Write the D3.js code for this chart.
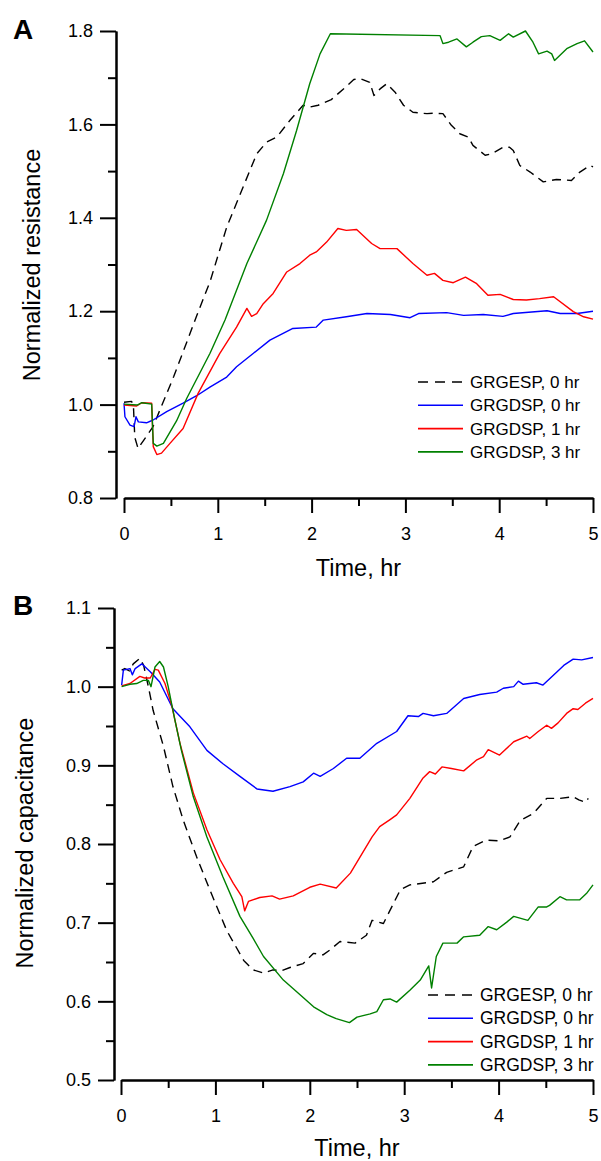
<!DOCTYPE html>
<html>
<head>
<meta charset="utf-8">
<script src="https://cdn.jsdelivr.net/npm/d3@7"></script>
<style>
  body { margin: 0; background: #fff; }
  svg text { font-family: Arial, "Liberation Sans", sans-serif; fill: #000; }
  .axis path, .axis line { stroke: #000; stroke-width: 2; }
  .series { fill: none; stroke-width: 1.4; stroke-linejoin: round; }
</style>
</head>
<body>
<svg id="chart" width="601" height="1161"></svg>
<script>
// Series names and styles
var seriesNames = ["GRGESP, 0 hr", "GRGDSP, 0 hr", "GRGDSP, 1 hr", "GRGDSP, 3 hr"];
var seriesColors = ["#000000", "#0000ff", "#ff0000", "#008000"];
var seriesDash = ["9,6", null, null, null];

// Axis ticks
var timeTicks = [0, 1, 2, 3, 4, 5];
var timeMinor = [0.5, 1.5, 2.5, 3.5, 4.5];
var resTicks = [0.8, 1.0, 1.2, 1.4, 1.6, 1.8];
var resMinor = [0.9, 1.1, 1.3, 1.5, 1.7];
var capTicks = [0.5, 0.6, 0.7, 0.8, 0.9, 1.0, 1.1];
var capMinor = [0.55, 0.65, 0.75, 0.85, 0.95, 1.05];

// Panel A: normalized resistance vs time (hr)
var resGrgesp0 = [[0,1.005],[0.08,1.007],[0.1,1.0],[0.115,0.93],[0.15,0.906],[0.31,0.953],[0.53,1.06],[0.775,1.19],[0.92,1.265],[1.095,1.38],[1.27,1.466],[1.415,1.537],[1.52,1.562],[1.63,1.573],[1.77,1.609],[1.91,1.641],[1.98,1.637],[2.07,1.641],[2.21,1.653],[2.34,1.676],[2.45,1.696],[2.52,1.698],[2.62,1.69],[2.665,1.662],[2.73,1.676],[2.8,1.687],[2.89,1.669],[2.98,1.641],[3.08,1.626],[3.23,1.623],[3.3,1.624],[3.4,1.623],[3.49,1.598],[3.58,1.58],[3.67,1.573],[3.72,1.555],[3.85,1.534],[3.92,1.537],[4.04,1.551],[4.11,1.551],[4.15,1.544],[4.22,1.512],[4.33,1.498],[4.47,1.477],[4.61,1.482],[4.77,1.48],[4.86,1.498],[4.97,1.512],[5.0,1.509]];
var resGrgdsp0 = [[0,1.003],[0.01,0.974],[0.064,0.956],[0.107,0.953],[0.128,0.974],[0.153,0.963],[0.24,0.961],[0.31,0.967],[0.455,0.985],[0.63,1.003],[0.775,1.019],[0.92,1.038],[1.095,1.059],[1.2,1.081],[1.38,1.11],[1.556,1.138],[1.8,1.163],[2.05,1.166],[2.125,1.181],[2.37,1.188],[2.59,1.195],[2.84,1.193],[3.05,1.186],[3.14,1.195],[3.44,1.197],[3.62,1.191],[3.83,1.193],[4.04,1.189],[4.15,1.195],[4.51,1.201],[4.65,1.195],[4.83,1.195],[5.0,1.2]];
var resGrgdsp1 = [[0,0.999],[0.135,0.997],[0.19,1.004],[0.295,1.003],[0.312,0.91],[0.35,0.893],[0.4,0.896],[0.49,0.917],[0.63,0.949],[0.79,1.024],[1.02,1.109],[1.2,1.166],[1.31,1.206],[1.36,1.189],[1.415,1.195],[1.485,1.216],[1.59,1.238],[1.735,1.284],[1.876,1.302],[1.98,1.32],[2.05,1.327],[2.16,1.348],[2.28,1.377],[2.37,1.373],[2.48,1.375],[2.64,1.345],[2.73,1.334],[2.91,1.334],[3.08,1.302],[3.23,1.277],[3.31,1.281],[3.4,1.266],[3.51,1.261],[3.64,1.273],[3.76,1.259],[3.88,1.234],[4.01,1.236],[4.15,1.225],[4.29,1.224],[4.43,1.227],[4.58,1.231],[4.79,1.199],[4.9,1.188],[5.0,1.183]];
var resGrgdsp3 = [[0,1.001],[0.14,0.999],[0.19,1.004],[0.295,1.001],[0.312,0.917],[0.35,0.911],[0.42,0.917],[0.56,0.965],[0.668,1.013],[0.917,1.11],[1.077,1.181],[1.31,1.302],[1.52,1.395],[1.7,1.495],[1.84,1.587],[1.98,1.687],[2.09,1.751],[2.2,1.794],[3.37,1.79],[3.4,1.773],[3.46,1.776],[3.55,1.783],[3.65,1.766],[3.72,1.776],[3.81,1.788],[3.9,1.79],[4.01,1.78],[4.1,1.794],[4.15,1.787],[4.28,1.8],[4.36,1.776],[4.42,1.751],[4.51,1.757],[4.56,1.751],[4.59,1.737],[4.72,1.762],[4.83,1.773],[4.91,1.779],[5.0,1.755]];

// Panel B: normalized capacitance vs time (hr)
var capGrgesp0 = [[0.007,1.021],[0.04,1.023],[0.09,1.02],[0.13,1.029],[0.2,1.036],[0.24,1.027],[0.29,1.0],[0.34,0.97],[0.45,0.924],[0.55,0.873],[0.66,0.83],[0.8,0.784],[0.94,0.742],[1.12,0.69],[1.3,0.652],[1.4,0.64],[1.51,0.636],[1.61,0.64],[1.7,0.639],[1.79,0.643],[1.93,0.648],[2.04,0.661],[2.14,0.659],[2.21,0.665],[2.32,0.676],[2.48,0.674],[2.6,0.684],[2.66,0.703],[2.78,0.699],[2.96,0.742],[3.06,0.748],[3.31,0.752],[3.45,0.764],[3.63,0.771],[3.73,0.797],[3.87,0.805],[4.01,0.804],[4.12,0.809],[4.23,0.83],[4.37,0.839],[4.51,0.858],[4.65,0.858],[4.79,0.86],[4.85,0.856],[4.92,0.853],[4.95,0.858]];
var capGrgdsp0 = [[0.007,1.002],[0.025,1.021],[0.095,1.023],[0.12,1.015],[0.15,1.023],[0.22,1.029],[0.31,1.019],[0.41,1.006],[0.55,0.972],[0.73,0.949],[0.91,0.919],[1.08,0.902],[1.26,0.886],[1.44,0.87],[1.61,0.867],[1.79,0.873],[1.93,0.879],[2.04,0.89],[2.11,0.886],[2.25,0.896],[2.39,0.909],[2.53,0.909],[2.71,0.928],[2.92,0.943],[3.04,0.963],[3.15,0.962],[3.2,0.966],[3.31,0.963],[3.45,0.966],[3.63,0.985],[3.8,0.99],[3.98,0.993],[4.05,0.998],[4.16,1.0],[4.21,1.007],[4.26,1.003],[4.4,1.005],[4.47,1.002],[4.62,1.019],[4.69,1.027],[4.79,1.035],[4.88,1.034],[5.0,1.037]];
var capGrgdsp1 = [[0.007,1.001],[0.095,1.004],[0.2,1.013],[0.25,1.011],[0.31,1.011],[0.36,1.022],[0.395,1.021],[0.466,1.004],[0.54,0.975],[0.625,0.928],[0.766,0.865],[0.91,0.818],[1.05,0.78],[1.19,0.75],[1.28,0.733],[1.31,0.715],[1.35,0.727],[1.47,0.732],[1.6,0.734],[1.68,0.73],[1.825,0.734],[2.0,0.745],[2.11,0.749],[2.28,0.744],[2.43,0.763],[2.53,0.783],[2.66,0.809],[2.74,0.822],[2.85,0.831],[2.92,0.837],[3.06,0.858],[3.2,0.884],[3.27,0.892],[3.33,0.889],[3.4,0.898],[3.5,0.896],[3.63,0.893],[3.77,0.907],[3.84,0.911],[3.89,0.92],[4.01,0.913],[4.16,0.93],[4.3,0.937],[4.33,0.934],[4.42,0.943],[4.51,0.951],[4.56,0.947],[4.63,0.954],[4.72,0.966],[4.79,0.972],[4.84,0.971],[4.92,0.979],[5.0,0.985]];
var capGrgdsp3 = [[0.007,1.0],[0.095,1.003],[0.166,1.004],[0.236,1.008],[0.29,1.008],[0.318,1.0],[0.36,1.025],[0.41,1.032],[0.45,1.025],[0.5,1.0],[0.57,0.958],[0.64,0.919],[0.766,0.86],[0.91,0.809],[1.08,0.758],[1.26,0.708],[1.4,0.68],[1.51,0.657],[1.72,0.627],[1.9,0.608],[2.04,0.593],[2.18,0.583],[2.28,0.578],[2.42,0.573],[2.5,0.58],[2.64,0.584],[2.71,0.587],[2.78,0.602],[2.85,0.603],[2.92,0.599],[3.06,0.614],[3.17,0.627],[3.26,0.645],[3.29,0.617],[3.34,0.657],[3.41,0.674],[3.56,0.674],[3.63,0.682],[3.8,0.684],[3.89,0.695],[3.98,0.691],[4.09,0.701],[4.16,0.708],[4.31,0.703],[4.42,0.72],[4.51,0.72],[4.54,0.722],[4.65,0.733],[4.72,0.729],[4.86,0.729],[4.93,0.737],[5.0,0.748]];

var makeTranslate = function(x, y) {
  return "translate(" + x + "," + y + ")";
};

var svg = d3.select("#chart");

// Render one panel (axes, curves, legend)
var renderPanel = function(config) {
  var xScale = d3.scaleLinear().domain([0, 5]).range([config.xLeft, config.xRight]);
  var yScale = d3.scaleLinear().domain(config.yDomain).range([config.yBottom, config.yTop]);

  var chart = svg.append("g");

  // y axis, major + minor ticks
  chart.append("g")
    .attr("class", "axis")
    .attr("transform", makeTranslate(config.yAxisX, 0))
    .call(d3.axisLeft(yScale).tickValues(config.yTicks).tickSize(16).tickSizeOuter(0)
      .tickPadding(7).tickFormat(d3.format(".1f")));

  chart.append("g")
    .attr("class", "axis")
    .attr("transform", makeTranslate(config.yAxisX, 0))
    .call(d3.axisLeft(yScale).tickValues(config.yMinor).tickSize(8).tickSizeOuter(0).tickFormat(""));

  // x axis, major + minor ticks
  chart.append("g")
    .attr("class", "axis")
    .attr("transform", makeTranslate(0, config.xAxisY))
    .call(d3.axisBottom(xScale).tickValues(timeTicks).tickSize(15).tickSizeOuter(0)
      .tickPadding(14).tickFormat(d3.format("d")));

  chart.append("g")
    .attr("class", "axis")
    .attr("transform", makeTranslate(0, config.xAxisY))
    .call(d3.axisBottom(xScale).tickValues(timeMinor).tickSize(8).tickSizeOuter(0).tickFormat(""));

  chart.selectAll(".axis text")
    .attr("font-family", "Arial, 'Liberation Sans', sans-serif")
    .attr("font-size", 18);

  // Axis titles
  chart.append("text")
    .attr("x", (config.xLeft + config.xRight) / 2)
    .attr("y", config.xTitleY)
    .attr("text-anchor", "middle")
    .attr("font-size", 23.5)
    .text("Time, hr");

  chart.append("text")
    .attr("transform", makeTranslate(config.yTitleX, config.yTitleY) + " rotate(-90)")
    .attr("text-anchor", "middle")
    .attr("font-size", 23.5)
    .text(config.yTitle);

  // Panel letter
  chart.append("text")
    .attr("x", config.letterX)
    .attr("y", config.letterY)
    .attr("font-size", 28)
    .attr("font-weight", "bold")
    .text(config.letter);

  // Curves
  var line = d3.line()
    .x(function(d) { return xScale(d[0]); })
    .y(function(d) { return yScale(d[1]); });

  chart.selectAll(".series")
    .data(config.series)
    .enter()
    .append("path")
    .attr("class", "series")
    .attr("d", function(d) { return line(d); })
    .attr("stroke", function(d, i) { return seriesColors[i]; })
    .attr("stroke-dasharray", function(d, i) { return seriesDash[i]; });

  // Legend
  var legend = chart.selectAll(".key")
    .data(seriesNames)
    .enter()
    .append("g")
    .attr("class", "key")
    .attr("transform", function(d, i) {
      return makeTranslate(config.legendX, config.legendY + i * config.legendStep);
    });

  legend.append("line")
    .attr("x1", 0)
    .attr("x2", 45)
    .attr("y1", 0)
    .attr("y2", 0)
    .attr("stroke-width", 1.6)
    .attr("stroke", function(d, i) { return seriesColors[i]; })
    .attr("stroke-dasharray", function(d, i) { return seriesDash[i] ? "10,7" : null; });

  legend.append("text")
    .attr("x", config.legendTextX)
    .attr("y", 6)
    .attr("font-size", config.legendFont)
    .text(function(d) { return d; });
};

renderPanel({
  letter: "A",
  letterX: 13,
  letterY: 39,
  xLeft: 124,
  xRight: 593,
  yTop: 31,
  yBottom: 498,
  yDomain: [0.8, 1.8],
  yTicks: resTicks,
  yMinor: resMinor,
  yAxisX: 116,
  xAxisY: 498,
  xTitleY: 576,
  yTitle: "Normalized resistance",
  yTitleX: 40,
  yTitleY: 265,
  series: [resGrgesp0, resGrgdsp0, resGrgdsp1, resGrgdsp3],
  legendX: 418,
  legendY: 382,
  legendStep: 23.3,
  legendTextX: 52,
  legendFont: 17
});

renderPanel({
  letter: "B",
  letterX: 13,
  letterY: 615,
  xLeft: 121,
  xRight: 593,
  yTop: 608,
  yBottom: 1080,
  yDomain: [0.5, 1.1],
  yTicks: capTicks,
  yMinor: capMinor,
  yAxisX: 114,
  xAxisY: 1080,
  xTitleY: 1156,
  yTitle: "Normalized capacitance",
  yTitleX: 33,
  yTitleY: 843,
  series: [capGrgesp0, capGrgdsp0, capGrgdsp1, capGrgdsp3],
  legendX: 428,
  legendY: 995,
  legendStep: 23.3,
  legendTextX: 52,
  legendFont: 17.5
});
</script>
</body>
</html>
